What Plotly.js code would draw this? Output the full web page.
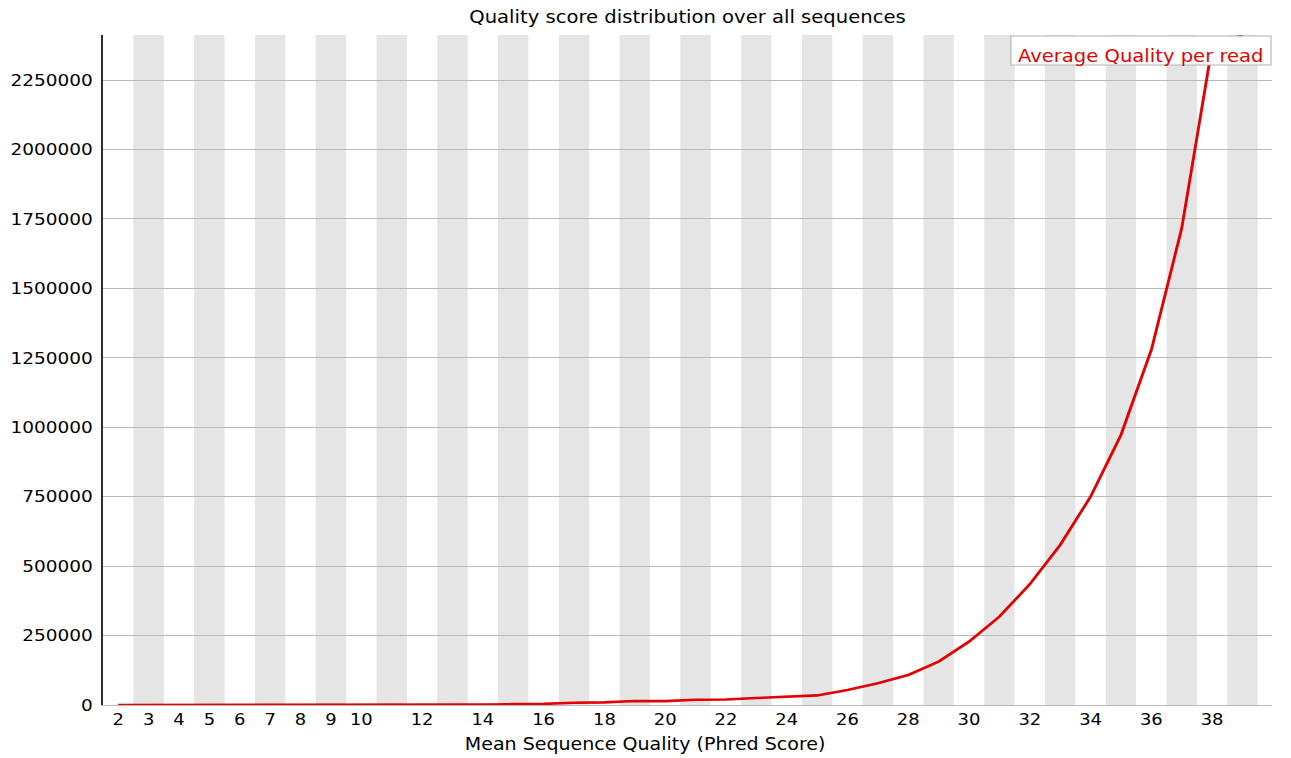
<!DOCTYPE html>
<html>
<head>
<meta charset="utf-8">
<script src="https://cdn.plot.ly/plotly-3.0.1.min.js"></script>
<style>
  html, body { margin: 0; padding: 0; background: #ffffff; overflow: hidden; }
  #wrap { width: 1153px; height: 758px; transform: scaleX(1.11969); transform-origin: 0 0; }
  #chart { width: 1153px; height: 758px; }
</style>
</head>
<body>
<div id="wrap"><div id="chart"></div></div>
<script>
// Mean Phred quality per read (x) and number of reads with that mean (y)
const qualities = [2, 3, 4, 5, 6, 7, 8, 9, 10, 11, 12, 13, 14, 15, 16, 17, 18, 19, 20,
                   21, 22, 23, 24, 25, 26, 27, 28, 29, 30, 31, 32, 33, 34, 35, 36, 37, 38, 39];
const readCounts = [150, 60, 80, 110, 150, 210, 280, 380, 520, 700, 950, 1300, 1800, 3000,
                    4000, 8000, 9500, 14500, 14000, 19000, 20000, 25000, 30000, 34500,
                    54000, 78000, 108000, 156000, 228000, 318000, 435000, 576000, 750000,
                    972000, 1278000, 1716000, 2370000, 2412000];
const xTickLabels = ['2', '3', '4', '5', '6', '7', '8', '9', '10', '12', '14', '16', '18', '20',
                     '22', '24', '26', '28', '30', '32', '34', '36', '38'];
const yTickValues = [0, 250000, 500000, 750000, 1000000, 1250000, 1500000, 1750000, 2000000, 2250000];

const seriesName = 'Average Quality per read';
const chartTitle = 'Quality score distribution over all sequences';
const xLabel = 'Mean Sequence Quality (Phred Score)';

const FONT = 'DejaVu Sans, Verdana, sans-serif';
const RED = 'rgb(228,0,0)';

// alternating grey bands behind every other quality bin
const bands = qualities
  .filter((q, i) => i % 2 === 1)
  .map(q => ({
    type: 'rect', layer: 'below', xref: 'x', yref: 'paper',
    x0: q - 0.5, x1: q + 0.5, y0: 0, y1: 1,
    fillcolor: 'rgb(229,229,229)', line: { width: 0 }
  }));

// legend frame in the top right corner of the plot area
const legendFrame = {
  type: 'rect', layer: 'above', xref: 'paper', yref: 'paper',
  x0: 0.7767, x1: 0.9992, y0: 0.9552, y1: 0.9985,
  fillcolor: '#ffffff', line: { color: 'rgb(178,178,178)', width: 1 }
};

const trace = {
  type: 'scatter', mode: 'lines', name: seriesName,
  x: qualities, y: readCounts,
  line: { color: RED, width: 2.6 },
  hoverinfo: 'x+y'
};

const layout = {
  width: 1153, height: 758,
  margin: { l: 92, r: 17, t: 35, b: 53 },
  paper_bgcolor: '#ffffff', plot_bgcolor: '#ffffff',
  showlegend: false,
  font: { family: FONT, color: '#000000', size: 16 },
  title: {
    text: chartTitle,
    font: { family: FONT, size: 17.5, color: '#000000' },
    xref: 'paper', x: 0.5, xanchor: 'center',
    yref: 'container', y: 1 - 17 / 758, yanchor: 'middle'
  },
  xaxis: {
    range: [1.5, 39.97],
    tickmode: 'array',
    tickvals: xTickLabels.map(Number),
    ticktext: xTickLabels,
    ticks: '', ticklen: 0,
    ticklabelstandoff: 0,
    showgrid: false, zeroline: false,
    showline: true, linecolor: 'rgb(185,185,185)', linewidth: 1,
    tickfont: { family: FONT, size: 16, color: '#000000' },
    fixedrange: true
  },
  yaxis: {
    range: [0, 2412000],
    tickmode: 'array',
    tickvals: yTickValues,
    ticktext: yTickValues.map(String),
    ticks: '', ticklen: 0,
    ticklabelstandoff: 4,
    showgrid: true, gridcolor: 'rgb(185,185,185)', gridwidth: 1,
    zeroline: false,
    showline: true, linecolor: 'rgb(45,45,45)', linewidth: 1.6,
    tickfont: { family: FONT, size: 16.5, color: '#000000' },
    fixedrange: true
  },
  shapes: bands.concat([legendFrame]),
  annotations: [
    {
      text: seriesName,
      xref: 'paper', yref: 'paper', x: 0.7802, y: 0.9687,
      xanchor: 'left', yanchor: 'middle',
      showarrow: false,
      font: { family: FONT, size: 17.5, color: RED }
    },
    {
      text: xLabel,
      xref: 'paper', yref: 'paper', x: 0.4637, y: 0,
      xanchor: 'center', yanchor: 'middle', yshift: -39,
      showarrow: false,
      font: { family: FONT, size: 17, color: '#000000' }
    }
  ]
};

Plotly.newPlot('chart', [trace], layout, { displayModeBar: false, staticPlot: false, responsive: false });
</script>
</body>
</html>
